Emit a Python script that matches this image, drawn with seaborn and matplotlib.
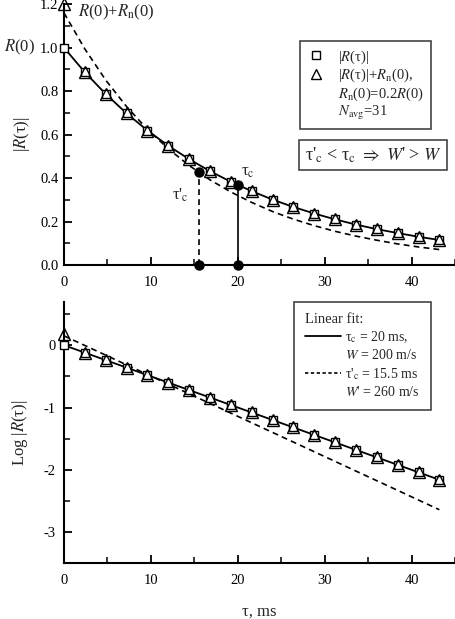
import matplotlib
matplotlib.use('Agg')
import matplotlib.pyplot as plt
from matplotlib.lines import Line2D
from matplotlib.ticker import MultipleLocator
import seaborn as sns

# lag times (ms) of the measured points
tau = [0.0, 2.4, 4.8, 7.2, 9.6, 12.0, 14.4, 16.8, 19.2, 21.6,
       24.0, 26.4, 28.8, 31.2, 33.6, 36.0, 38.4, 40.8, 43.2]
# |R(tau)| (squares)
r_abs = [1.0, 0.887, 0.787, 0.698, 0.619, 0.549, 0.487, 0.432, 0.383, 0.340,
         0.301, 0.267, 0.237, 0.210, 0.186, 0.165, 0.147, 0.130, 0.115]
# |R(tau)| + Rn(0) (triangles), noise only at zero lag
r_noise = [1.2, 0.887, 0.787, 0.698, 0.619, 0.549, 0.487, 0.432, 0.383, 0.340,
           0.301, 0.267, 0.237, 0.210, 0.186, 0.165, 0.147, 0.130, 0.115]
# dashed fit curve
r_fit2 = [1.16, 0.994, 0.851, 0.729, 0.624, 0.535, 0.458, 0.392, 0.336, 0.288,
          0.246, 0.211, 0.181, 0.155, 0.133, 0.114, 0.097, 0.083, 0.071]

# log panel values
log_abs = [0.0, -0.12, -0.24, -0.36, -0.48, -0.60, -0.72, -0.84, -0.96, -1.08,
           -1.20, -1.32, -1.44, -1.56, -1.68, -1.80, -1.92, -2.04, -2.16]
log_noise = [0.18] + log_abs[1:]
fit_x = [0.0, 43.2]
fit1_log = [0.0, -2.16]
fit2_log = [0.15, -2.64]

# correlation times
tc_x = [20.0, 15.5]
tc_y = [0.368, 0.427]

sns.set_style('ticks')
plt.rcParams['font.family'] = ['Liberation Serif', 'DejaVu Serif']
plt.rcParams['mathtext.fontset'] = 'stix'
plt.rcParams['axes.unicode_minus'] = False
plt.rcParams['font.size'] = 10.5

fig = plt.figure(figsize=(4.55, 6.19), dpi=100)
ax1 = fig.add_axes([0.1407, 0.5719, 0.8593, 0.4212])
ax2 = fig.add_axes([0.1407, 0.09, 0.8593, 0.4228])

mk = dict(color='black', linestyle='none', mec='black', mew=1.0, clip_on=False)
dash = (0, (3.5, 2.5))


def style_axis(ax):
    sns.despine(ax=ax)
    for s in ('left', 'bottom'):
        ax.spines[s].set_linewidth(1.5)
        ax.spines[s].set_color('black')
    ax.xaxis.set_major_locator(MultipleLocator(10))
    ax.xaxis.set_minor_locator(MultipleLocator(5))
    ax.tick_params(which='major', direction='in', length=6, width=1.3,
                   colors='black', labelsize=10.5, pad=8)
    ax.tick_params(which='minor', direction='in', length=4, width=1.1,
                   colors='black')
    ax.set_xlim(0, 45)


# ---- top panel ----
sns.lineplot(x=tau, y=r_abs, ax=ax1, color='black', lw=1.3)
sns.lineplot(x=tau, y=r_fit2, ax=ax1, color='black', lw=1.2, linestyle=dash)
for x, y, ls in zip(tc_x, tc_y, ['-', dash]):
    sns.lineplot(x=[x, x], y=[0, y], ax=ax1, color='black', lw=1.2,
                 linestyle=ls, estimator=None, sort=False)
    ax1.plot([x, x], [0, y], 'o', color='black', ms=6.5, clip_on=False, zorder=5)
sns.lineplot(x=tau, y=r_abs, ax=ax1, marker='s', ms=6, mfc='white', zorder=4, **mk)
sns.lineplot(x=tau, y=r_noise, ax=ax1, marker='^', ms=8, mfc='none', zorder=4, **mk)

style_axis(ax1)
ax1.set_ylim(0, 1.2)
ax1.yaxis.set_major_locator(MultipleLocator(0.2))
ax1.yaxis.set_minor_locator(MultipleLocator(0.1))
ax1.yaxis.set_major_formatter(plt.FormatStrFormatter('%.1f'))
ax1.tick_params(axis='y', pad=4)
ax1.set_ylabel('|$R$(τ)|', fontsize=12, labelpad=6)

ax1.text(-3.3, 1.0, '$R$(0)', ha='right', va='center', fontsize=12)
ax1.text(1.6, 1.205, '$R$(0)+$R_{\\mathrm{n}}$(0)', ha='left', va='top',
         fontsize=12)
ax1.text(20.4, 0.43, 'τ$_{\\mathrm{c}}$', ha='left', va='center', fontsize=12)
ax1.text(12.4, 0.32, "τ'$_{\\mathrm{c}}$", ha='left', va='center', fontsize=12)
ax1.text(0.79, 0.422,
         "τ'$_{\\mathrm{c}}$ < τ$_{\\mathrm{c}}$ $\\Rightarrow$ $W$' > $W$",
         transform=ax1.transAxes, ha='center', va='center', fontsize=13,
         bbox=dict(boxstyle='square,pad=0.3', fc='white', ec='#444444', lw=1.2))

h1 = [Line2D([], [], marker='s', ls='none', mfc='none', mec='black', ms=6),
      Line2D([], [], marker='^', ls='none', mfc='none', mec='black', ms=7),
      Line2D([], [], ls='none'),
      Line2D([], [], ls='none')]
l1 = ['|$R$(τ)|', '|$R$(τ)|+$R_{\\mathrm{n}}$(0),',
      '$R_{\\mathrm{n}}$(0)=0.2$R$(0)', '$N_{\\mathrm{avg}}$=31']
leg1 = ax1.legend(h1, l1, loc='upper left', bbox_to_anchor=(0.604, 0.859),
                  borderaxespad=0, frameon=True, fancybox=False, framealpha=1,
                  edgecolor='#444444', fontsize=10.5, handlelength=1.2,
                  handletextpad=0.9, labelspacing=0.08, borderpad=0.5)
leg1.get_frame().set_linewidth(1.2)

# ---- bottom panel ----
sns.lineplot(x=fit_x, y=fit1_log, ax=ax2, color='black', lw=1.3)
sns.lineplot(x=fit_x, y=fit2_log, ax=ax2, color='black', lw=1.2, linestyle=dash)
sns.lineplot(x=tau, y=log_abs, ax=ax2, marker='s', ms=6, mfc='white', zorder=4, **mk)
sns.lineplot(x=tau, y=log_noise, ax=ax2, marker='^', ms=8, mfc='none', zorder=4, **mk)

style_axis(ax2)
ax2.set_ylim(-3.5, 0.7)
ax2.yaxis.set_major_locator(MultipleLocator(1))
ax2.yaxis.set_minor_locator(MultipleLocator(0.5))
ax2.tick_params(axis='y', pad=6)
ax2.set_ylabel('Log |$R$(τ)|', fontsize=12, labelpad=10)
ax2.set_xlabel('τ, ms', fontsize=12, labelpad=12)

h2 = [Line2D([], [], color='black', lw=1.3),
      Line2D([], [], ls='none'),
      Line2D([], [], color='black', lw=1.2, linestyle=(0, (2, 1.5))),
      Line2D([], [], ls='none')]
l2 = ['τ$_{\\mathrm{c}}$ = 20 ms,', '$W$ = 200 m/s',
      "τ'$_{\\mathrm{c}}$ = 15.5 ms", "$W$' = 260 m/s"]
leg2 = ax2.legend(h2, l2, title='Linear fit:', alignment='left',
                  loc='upper left', bbox_to_anchor=(0.588, 1.0),
                  borderaxespad=0, frameon=True, fancybox=False, framealpha=1,
                  edgecolor='#444444', fontsize=10, title_fontsize=10.5,
                  handlelength=2.6, handletextpad=0.3, labelspacing=0.25,
                  borderpad=0.8)
leg2.get_frame().set_linewidth(1.2)

fig.savefig('out.png', dpi=100)
